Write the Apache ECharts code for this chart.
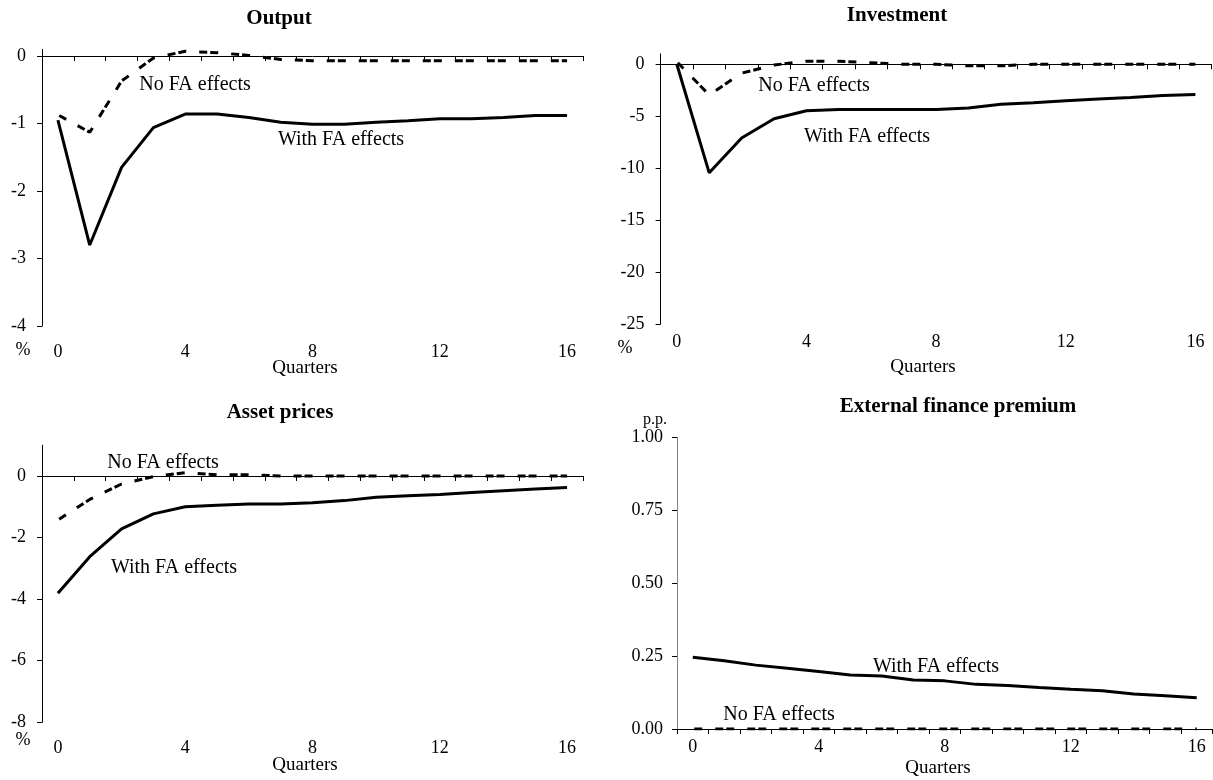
<!DOCTYPE html>
<html>
<head>
<meta charset="utf-8">
<script src="https://cdn.jsdelivr.net/npm/echarts@6/dist/echarts.min.js"></script>
<style>
  html, body { margin: 0; padding: 0; background: #fff; }
  #chart { width: 1213px; height: 780px; }
</style>
</head>
<body>
<div id="chart"></div>
<script>
const quarters = ['0','1','2','3','4','5','6','7','8','9','10','11','12','13','14','15','16'];

const outputWith = [-0.95, -2.80, -1.65, -1.06, -0.86, -0.86, -0.91, -0.98, -1.01, -1.01, -0.98, -0.96, -0.93, -0.93, -0.91, -0.88, -0.88];
const outputNo = [-0.87, -1.13, -0.37, -0.03, 0.07, 0.05, 0.01, -0.05, -0.07, -0.07, -0.07, -0.07, -0.07, -0.07, -0.07, -0.07, -0.07];

const investWith = [0, -10.45, -7.1, -5.25, -4.48, -4.35, -4.35, -4.35, -4.35, -4.2, -3.85, -3.7, -3.5, -3.35, -3.2, -3.0, -2.9];
const investNo = [0.25, -2.95, -0.85, -0.07, 0.3, 0.3, 0.15, 0, 0, -0.15, -0.15, 0, 0, 0, 0, 0, 0];

const assetWith = [-3.81, -2.62, -1.72, -1.23, -1.0, -0.95, -0.91, -0.91, -0.87, -0.8, -0.69, -0.64, -0.6, -0.54, -0.48, -0.42, -0.37];
const assetNo = [-1.43, -0.76, -0.26, -0.02, 0.11, 0.04, 0.04, 0, 0, 0, 0, 0, 0, 0, 0, 0, 0];

const efpWith = [0.246, 0.234, 0.219, 0.208, 0.197, 0.185, 0.182, 0.168, 0.165, 0.153, 0.149, 0.142, 0.136, 0.131, 0.120, 0.114, 0.107];
const efpNo = [0, 0, 0, 0, 0, 0, 0, 0, 0, 0, 0, 0, 0, 0, 0, 0, 0];

const outputTicks = [-4, -3, -2, -1, 0];
const investTicks = [-25, -20, -15, -10, -5, 0];
const assetTicks = [-8, -6, -4, -2, 0];

const serif = '"Liberation Serif", "DejaVu Serif", serif';

// one panel = grid + zero x axis (line, ticks) + bottom x axis (labels) + y axis + 2 lines
const panels = [
  { grid: { left: 42, top: 49.3, width: 541, height: 276.7 },
    y: { min: -4, max: 0.1, interval: 1, custom: outputTicks, margin: 16 },
    xMargin: 17, withData: outputWith, noData: outputNo },
  { grid: { left: 660.6, top: 53.9, width: 551, height: 270.1 },
    y: { min: -25, max: 1, interval: 5, custom: investTicks, margin: 16 },
    xMargin: 9, withData: investWith, noData: investNo },
  { grid: { left: 42, top: 445.2, width: 541, height: 277.1 },
    y: { min: -8, max: 1, interval: 2, custom: assetTicks, margin: 16 },
    xMargin: 17, withData: assetWith, noData: assetNo },
  { grid: { left: 677, top: 437.3, width: 535.5, height: 291.7 },
    y: { min: 0, max: 1, interval: 0.25, custom: null, margin: 14, fmt: v => v.toFixed(2), color: '#808080' },
    xMargin: 9, withData: efpWith, noData: efpNo }
];

const grids = [], xAxes = [], yAxes = [], series = [];
panels.forEach((p, i) => {
  grids.push(p.grid);
  xAxes.push({
    gridIndex: i, type: 'category', data: quarters, position: 'bottom',
    axisLine: { onZero: true, lineStyle: { color: '#000', width: 1 } },
    axisTick: { show: true, interval: 0, length: 5, lineStyle: { color: '#000' } },
    axisLabel: { show: false }, splitLine: { show: false }
  });
  xAxes.push({
    gridIndex: i, type: 'category', data: quarters, position: 'bottom',
    axisLine: { show: false, onZero: false }, axisTick: { show: false },
    axisLabel: { interval: 3, margin: p.xMargin, fontSize: 18, fontFamily: serif, color: '#000' },
    splitLine: { show: false }
  });
  const yl = {
    margin: p.y.margin, fontSize: 18, fontFamily: serif, color: '#000'
  };
  const yt = { show: true, length: 5, lineStyle: { color: '#000' } };
  if (p.y.custom) { yl.customValues = p.y.custom; yt.customValues = p.y.custom; }
  if (p.y.fmt) yl.formatter = p.y.fmt;
  yAxes.push({
    gridIndex: i, type: 'value', min: p.y.min, max: p.y.max, interval: p.y.interval,
    axisLine: { show: true, lineStyle: { color: p.y.color || '#000', width: 1 } },
    axisTick: yt, axisLabel: yl, splitLine: { show: false }
  });
  series.push({
    type: 'line', xAxisIndex: i * 2, yAxisIndex: i, data: p.noData,
    symbol: 'none', z: 3,
    lineStyle: { color: '#000', width: 3, type: [8, 3, 8, 13], dashOffset: 9.5 }
  });
  series.push({
    type: 'line', xAxisIndex: i * 2, yAxisIndex: i, data: p.withData,
    symbol: 'none', z: 4,
    lineStyle: { color: '#000', width: 3 }
  });
});

function txt(s, x, y, size, bold) {
  return {
    type: 'text', x: x, y: y, z: 10,
    style: {
      text: s, fill: '#000', textAlign: 'center', textVerticalAlign: 'middle',
      font: (bold ? 'bold ' : '') + size + 'px ' + serif
    }
  };
}

const texts = [
  txt('Output', 279, 19, 21, true),
  txt('Investment', 897, 16, 21, true),
  txt('Asset prices', 280, 413, 21, true),
  txt('External finance premium', 958, 407, 21, true),
  txt('%', 23, 350, 18), txt('Quarters', 305, 368, 19),
  txt('%', 625, 348, 18), txt('Quarters', 923, 367, 19),
  txt('%', 23, 740, 18), txt('Quarters', 305, 765, 19),
  txt('p.p.', 655, 420, 16), txt('Quarters', 938, 768, 19),
  txt('No FA effects', 195, 85, 20), txt('With FA effects', 341, 140, 20),
  txt('No FA effects', 814, 86, 20), txt('With FA effects', 867, 137, 20),
  txt('No FA effects', 163, 463, 20), txt('With FA effects', 174, 568, 20),
  txt('With FA effects', 936, 667, 20), txt('No FA effects', 779, 715, 20)
];

const chart = echarts.init(document.getElementById('chart'));
chart.setOption({
  backgroundColor: '#fff',
  animation: false,
  grid: grids,
  xAxis: xAxes,
  yAxis: yAxes,
  series: series,
  graphic: texts
});
</script>
</body>
</html>
